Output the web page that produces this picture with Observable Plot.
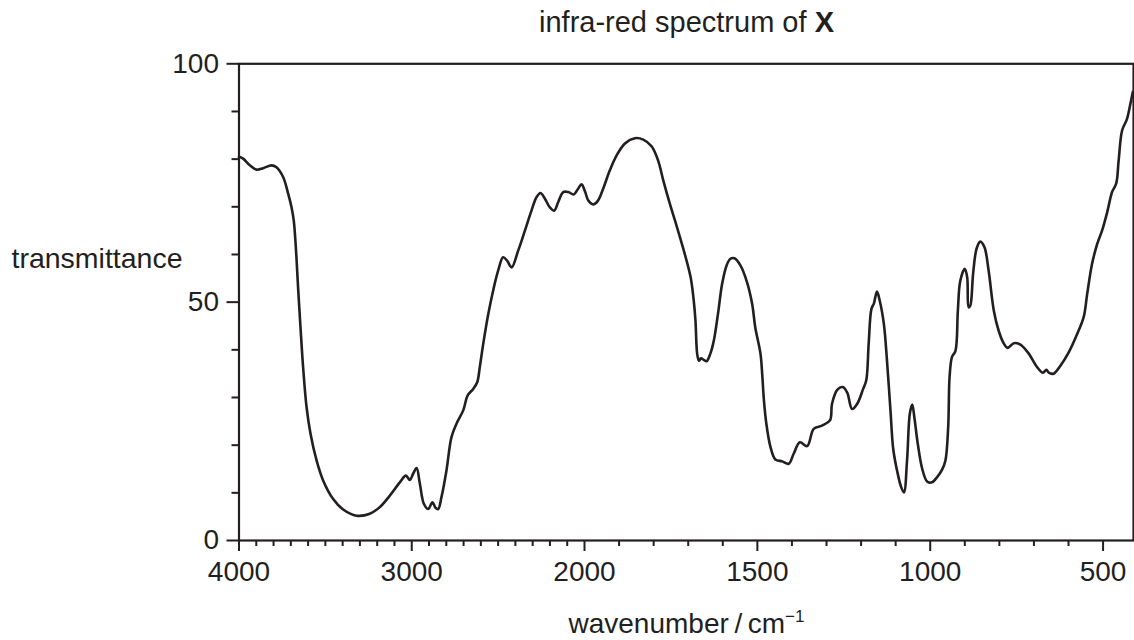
<!DOCTYPE html>
<html><head><meta charset="utf-8">
<script src="https://cdn.jsdelivr.net/npm/d3@7"></script>
<script src="https://cdn.jsdelivr.net/npm/@observablehq/plot@0.6"></script>
<style>html,body{margin:0;padding:0;background:#fff}</style>
</head><body><div id="chart"></div>
<script>
// wavenumber / cm^-1 (decreasing)
const wavenumber = [
  4000,3976,3937,3899,3860,3812,3783,3744,3715,3696,3683,3671,3658,3644,3629,3609,3586,3551,3513,3455,
  3397,3320,3243,3185,3127,3069,3034,3011,2992,2972,2953,2930,2905,2880,2861,2847,2828,2799,2770,2741,
  2702,2677,2644,2621,2606,2586,2557,2529,2500,2471,2448,2422,2384,2345,2307,2278,2255,2229,2201,2175,
  2152,2123,2094,2062,2037,2017,1998,1989,1975,1961,1946,1927,1907,1883,1854,1830,1806,1787,1772,1753,
  1734,1710,1693,1684,1679,1674,1669,1663,1655,1647,1636,1626,1614,1602,1589,1578,1566,1549,1530,1515,
  1506,1491,1486,1481,1474,1462,1448,1428,1409,1395,1377,1356,1337,1313,1290,1284,1269,1253,1240,1226,
  1211,1194,1185,1178,1170,1163,1154,1146,1134,1125,1115,1107,1096,1084,1076,1067,1059,1052,1046,1036,
  1023,1009,995,980,966,956,948,944,937,927,920,913,900,893,889,884,876,866,855,843,
  831,816,802,787,776,758,739,715,691,674,664,657,643,623,599,575,556,546,532,517,
  503,488,474,462,455,445,431,421,414
];
// transmittance (%)
const transmittance = [
  80.5,80.1,78.7,77.8,78.1,78.7,78.3,76.2,72.7,69.9,67.1,61.5,53.1,44.7,36.4,28.0,22.4,16.8,12.6,8.7,
  6.5,5.2,5.6,7.0,9.4,12.2,13.6,12.7,14.0,15.2,11.9,7.7,6.6,8.0,6.8,6.6,9.1,14.7,21.7,24.5,
  27.3,30.4,31.8,33.2,36.4,41.3,47.5,52.4,56.6,59.4,58.7,57.3,60.8,65.0,69.2,72.0,72.9,71.7,69.9,69.2,
  71.0,73.1,73.1,72.6,73.8,74.7,73.1,71.3,70.5,71.3,73.8,77.6,80.8,83.3,84.4,84.1,82.7,79.7,75.5,70.6,
  66.1,60.1,55.2,50.3,46.1,39.1,37.7,38.2,37.9,37.6,39.2,41.9,47.5,53.8,57.7,59.1,59.2,57.7,54.2,49.6,
  44.7,39.2,34.9,29.4,24.5,19.6,17.0,16.6,16.1,18.2,20.6,19.8,23.4,24.1,25.2,28.7,31.6,32.2,31.0,27.6,
  28.7,31.8,33.6,41.3,48.6,49.7,52.2,50.3,45.4,37.7,27.3,19.2,14.7,11.2,10.1,16.8,26.6,28.5,25.9,20.3,
  15.0,12.4,12.2,13.3,14.8,16.8,23.8,34.3,38.5,39.8,48.3,54.5,57.0,55.2,48.9,49.3,55.9,61.2,62.7,61.5,
  56.6,48.2,44.0,41.3,40.4,41.4,41.1,39.2,36.4,35.2,35.8,35.2,35.0,36.7,39.5,43.3,46.9,51.7,58.0,62.2,
  65.0,68.9,73.1,74.9,79.7,86.0,88.4,91.6,94.1
];
const xMajorTicks = [4000, 3000, 2000, 1500, 1000, 500];
const xMinorTicks = d3.range(3900, 500, -100).filter(v => !xMajorTicks.includes(v));
const yMajorTicks = [0, 50, 100];
const yMinorTicks = [10, 20, 30, 40, 60, 70, 80, 90];

const titleText = "infra-red spectrum of ";
const titleBold = "X";
const yLabel = "transmittance";
const xLabel = "wavenumber\u2009/\u2009cm";
const xLabelSup = "\u22121";

const ink = "#231f20";
const data = wavenumber.map((w, i) => ({wn: w, t: transmittance[i]}));

const svg = Plot.plot({
  width: 1134,
  height: 640,
  marginLeft: 238.5,
  marginRight: 1,
  marginTop: 63.3,
  marginBottom: 100,
  style: {fontFamily: "'Liberation Sans', Arial, sans-serif", fontSize: "28px", color: ink, background: "#fff"},
  x: {type: "linear", domain: [4000, 2000, 412], range: [238.5, 584, 1133], label: null},
  y: {domain: [0, 100], label: null},
  marks: [
    Plot.axisX(xMinorTicks, {tickSize: 6, tickFormat: () => "", strokeWidth: 2, label: null}),
    Plot.axisX(xMajorTicks, {tickSize: 11, tickPadding: 10, strokeWidth: 2, label: null, tickFormat: d => String(d)}),
    Plot.axisY(yMinorTicks, {tickSize: 7, tickFormat: () => "", strokeWidth: 2, label: null}),
    Plot.axisY(yMajorTicks, {tickSize: 12, tickPadding: 8, strokeWidth: 2, label: null, tickFormat: d => String(d)}),
    Plot.frame({stroke: ink, strokeWidth: 2.2}),
    Plot.line(data, {x: "wn", y: "t", curve: "catmull-rom", stroke: ink, strokeWidth: 2.6})
  ]
});

const s = d3.select(svg);
const title = s.append("text").attr("x", 686.5).attr("y", 32).attr("text-anchor", "middle")
  .attr("fill", ink).style("font-size", "29px");
title.append("tspan").text(titleText);
title.append("tspan").attr("font-weight", "bold").text(titleBold);

s.append("text").attr("x", 11.5).attr("y", 268).attr("text-anchor", "start")
  .attr("fill", ink).style("font-size", "28.5px").text(yLabel);

const xl = s.append("text").attr("x", 686.5).attr("y", 633).attr("text-anchor", "middle")
  .attr("fill", ink).style("font-size", "28px");
xl.append("tspan").text(xLabel);
xl.append("tspan").attr("dy", -11).style("font-size", "17px").text(xLabelSup);

document.getElementById("chart").appendChild(svg);
</script>
</body></html>
